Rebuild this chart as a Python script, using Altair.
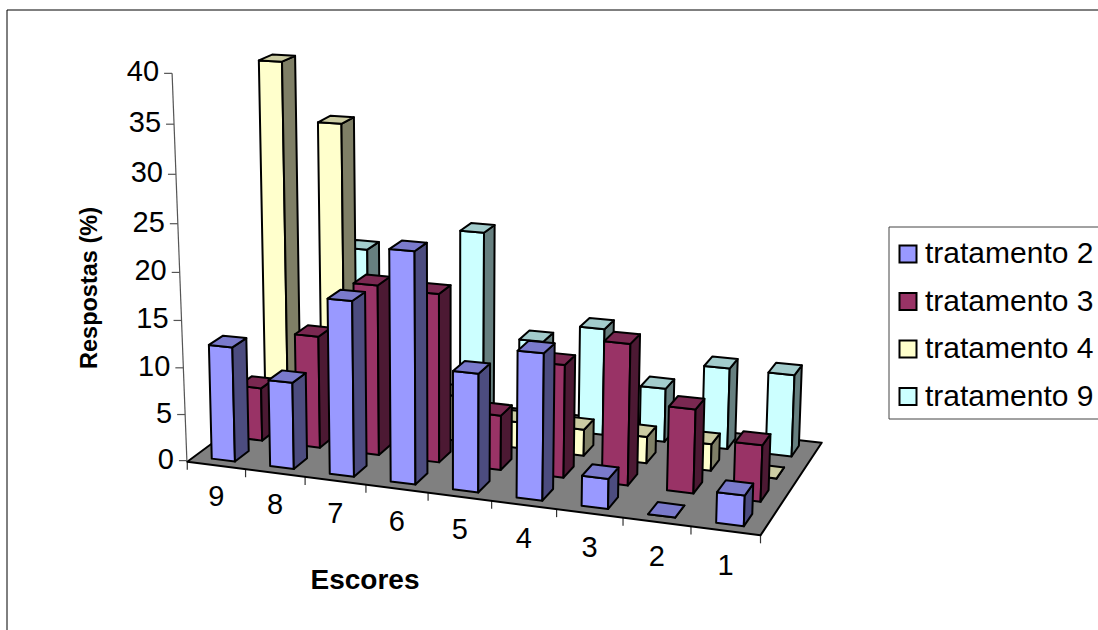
import altair as alt
import numpy as np
import pandas as pd

# Response percentages per score, listed from score 9 down to score 1
scores = ["9", "8", "7", "6", "5", "4", "3", "2", "1"]
tratamento_2 = [12.5, 9.38, 18.75, 24.5, 12.5, 15.3, 3.13, 0.0, 3.13]
tratamento_3 = [5.88, 12.3, 18.5, 18.2, 5.88, 12.0, 14.9, 8.82, 5.88]
tratamento_4 = [40.0, 33.7, 8.57, 5.0, 2.86, 2.86, 2.86, 2.86, 0.0]
tratamento_9 = [5.88, 18.2, 11.76, 21.2, 9.7, 11.76, 5.88, 8.82, 8.82]

series_names = ["tratamento 2", "tratamento 3", "tratamento 4", "tratamento 9"]
series_values = [tratamento_2, tratamento_3, tratamento_4, tratamento_9]
base_colors = ["#9999FF", "#993366", "#FFFFCC", "#CCFFFF"]
y_ticks = [0, 5, 10, 15, 20, 25, 30, 35, 40]

W, H = 1098, 630
BAR_W, BAR_D = 0.40, 0.50

# Perspective camera solved from where known model points land on the page:
# (category position, series depth, value) -> (px, py)
camera_points = [
    # floor corners
    ((9, 4, 0), (820, 444)),
    ((0, 4, 0), (292, 388)),
    # front edge of the floor at each category boundary
    ((0, 0, 0), (187, 461)), ((1, 0, 0), (244, 469)), ((2, 0, 0), (304, 478)),
    ((3, 0, 0), (366, 487)), ((4, 0, 0), (428, 495)), ((5, 0, 0), (492, 503)),
    ((6, 0, 0), (556, 512)), ((7, 0, 0), (623, 520)), ((8, 0, 0), (689, 527)),
    ((9, 0, 0), (760, 536)),
    # front row bars, feet and heads
    ((0.3, 0.25, 0), (212, 456)), ((1.3, 0.25, 0), (272, 463)),
    ((2.3, 0.25, 0), (331, 472)), ((3.3, 0.25, 0), (391, 479)),
    ((4.3, 0.25, 0), (453, 487)), ((5.3, 0.25, 0), (517, 495)),
    ((6.3, 0.25, 0), (582, 504)), ((8.3, 0.25, 0), (717, 522)),
    ((0.3, 0.25, 12.5), (207, 344)), ((1.3, 0.25, 9.38), (270, 380)),
    ((2.3, 0.25, 18.75), (327, 299)), ((3.3, 0.25, 25), (388, 247)),
    ((4.3, 0.25, 12.5), (453, 372)), ((5.3, 0.25, 15.63), (517, 350)),
    ((6.3, 0.25, 3.13), (582, 477)), ((8.3, 0.25, 3.13), (717, 493)),
    # rows further back
    ((8.3, 1.25, 5.88), (735, 442)), ((8.7, 1.25, 0), (762, 501)),
    ((6.3, 1.25, 14.71), (604, 338)), ((6.7, 1.25, 0), (630, 485)),
    ((0.3, 2.25, 40), (258, 58)), ((0.7, 2.25, 40), (283, 60)),
    ((1.3, 2.25, 34.29), (317, 120)), ((1.7, 2.25, 34.29), (343, 122)),
    ((3.3, 3.25, 20.59), (462, 232)), ((8.3, 3.25, 8.82), (767, 372)),
    ((8.7, 3.25, 8.82), (795, 373)), ((8.7, 3.25, 0), (792, 457)),
]

# The value axis has its own anchors along its slanted spine
axis_points = [
    ((0, 0, 0), (187, 461)), ((9, 0, 0), (760, 536)),
    ((9, 4, 0), (820, 444)), ((0, 4, 0), (292, 388)),
    ((0, 0, 10), (183, 367)), ((0, 0, 20), (180, 272.5)),
    ((0, 0, 30), (176, 175)), ((0, 0, 40), (172, 73)),
]


def solve_camera(points):
    rows = []
    for (a, b, c), (px, py) in points:
        rows.append([a, b, c, 1, 0, 0, 0, 0, -px * a, -px * b, -px * c, -px])
        rows.append([0, 0, 0, 0, a, b, c, 1, -py * a, -py * b, -py * c, -py])
    return np.linalg.svd(np.array(rows, dtype=float))[2][-1].reshape(3, 4)


CAM = solve_camera(camera_points)
AXIS_CAM = solve_camera(axis_points)


def project(u, v, h, cam=CAM):
    p = cam @ np.array([u, v, h, 1.0])
    return float(p[0] / p[2]), float(p[1] / p[2])


def shade(hex_color, k):
    r, g, b = (int(hex_color[i:i + 2], 16) for i in (1, 3, 5))
    return f"#{int(r * k):02x}{int(g * k):02x}{int(b * k):02x}"


faces = []


def add_face(corners, fill):
    face = faces[-1]["face"] + 1 if faces else 0
    for i, c in enumerate(corners):
        x, y = project(*c)
        faces.append({"face": face, "vertex": i, "x": x, "y": y, "fill": fill})


# The floor goes first, then bars from the back row forward and left to right
add_face([(0, 0, 0), (9, 0, 0), (9, 4, 0), (0, 4, 0)], "#808080")
for s in reversed(range(4)):
    for c, value in enumerate(series_values[s]):
        u0, u1 = c + 0.5 - BAR_W / 2, c + 0.5 + BAR_W / 2
        v0, v1 = s + 0.5 - BAR_D / 2, s + 0.5 + BAR_D / 2
        base = base_colors[s]
        add_face([(u0, v0, 0), (u1, v0, 0), (u1, v0, value), (u0, v0, value)], base)
        add_face([(u1, v0, 0), (u1, v1, 0), (u1, v1, value), (u1, v0, value)], shade(base, 0.5))
        add_face([(u0, v0, value), (u1, v0, value), (u1, v1, value), (u0, v1, value)], shade(base, 0.8))
faces_df = pd.DataFrame(faces)

x_px = alt.Scale(domain=[0, W], range=[0, W], nice=False, zero=False)
y_px = alt.Scale(domain=[0, H], range=[0, H], nice=False, zero=False)
X = alt.X("x:Q", scale=x_px, axis=None)
Y = alt.Y("y:Q", scale=y_px, axis=None)
X2 = alt.X2("x2:Q")

polygons = alt.Chart(faces_df).mark_line(
    interpolate="linear-closed", stroke="black", strokeWidth=2, strokeJoin="round"
).encode(
    x=X, y=Y,
    fill=alt.Fill("fill:N", scale=None),
    detail="face:N",
    order=alt.Order("vertex:Q"),
)

frame = alt.Chart(pd.DataFrame({"a": [0]})).mark_rect(
    fill="white", stroke="black", strokeWidth=1
).encode(x=alt.value(7), x2=alt.value(1200), y=alt.value(10), y2=alt.value(700))

# The legend's box runs off the right side of the page, so it is drawn apart
legend_box = alt.Chart(pd.DataFrame({"a": [0]})).mark_rect(
    fill="white", stroke="#444444", strokeWidth=1
).encode(x=alt.value(889), x2=alt.value(1200), y=alt.value(227), y2=alt.value(419))

# Value axis: a slanted spine with outward ticks
top_x, top_y = project(0, 0, 40, AXIS_CAM)
bot_x, bot_y = project(0, 0, 0, AXIS_CAM)
spine = alt.Chart(pd.DataFrame({"x": [bot_x, top_x], "y": [bot_y, top_y]})).mark_line(
    color="#555555", strokeWidth=1.2
).encode(x=X, y=Y)

y_tick_pos = [project(0, 0, t, AXIS_CAM) for t in y_ticks]
y_tick_df = pd.DataFrame({
    "x": [p[0] for p in y_tick_pos],
    "x2": [p[0] - 8 for p in y_tick_pos],
    "y": [p[1] for p in y_tick_pos],
    "ly": [p[1] - 1 for p in y_tick_pos],
    "lx": [p[0] - 13 for p in y_tick_pos],
    "label": [str(t) for t in y_ticks],
})
y_tick_rules = alt.Chart(y_tick_df).mark_rule(color="#555555", strokeWidth=1.2).encode(
    x=X, x2=X2, y=Y
)
y_labels = alt.Chart(y_tick_df).mark_text(
    align="right", baseline="middle", font="Liberation Sans", fontSize=29, color="black"
).encode(
    x=alt.X("lx:Q", scale=x_px, axis=None),
    y=alt.Y("ly:Q", scale=y_px, axis=None),
    text="label:N",
)

# Score axis: ticks under the front edge of the floor and a label per category
x_tick_rows = []
for k in range(10):
    px, py = project(k, 0, 0)
    x_tick_rows.append({"x": px, "y": py, "y2": py + 8})
x_tick_rules = alt.Chart(pd.DataFrame(x_tick_rows)).mark_rule(
    color="#333333", strokeWidth=1.2
).encode(x=X, y=Y, y2=alt.Y2("y2:Q"))

x_label_rows = []
for k, name in enumerate(scores):
    px, py = project(k + 0.5, 0, 0)
    x_label_rows.append({"x": px, "y": py + 32 + 0.4 * k, "label": name})
x_labels = alt.Chart(pd.DataFrame(x_label_rows)).mark_text(
    align="center", baseline="middle", font="Liberation Sans", fontSize=29, color="black"
).encode(x=X, y=Y, text="label:N")

x_title = alt.Chart(pd.DataFrame({"x": [365], "y": [581], "label": ["Escores"]})).mark_text(
    align="center", baseline="middle", font="Liberation Sans", fontSize=28,
    fontWeight="bold", color="black"
).encode(x=X, y=Y, text="label:N")

y_title = alt.Chart(pd.DataFrame({"x": [90], "y": [288], "label": ["Respostas (%)"]})).mark_text(
    align="center", baseline="middle", font="Liberation Sans", fontSize=23.5,
    fontWeight="bold", color="black", angle=270
).encode(x=X, y=Y, text="label:N")

# Legend carried by an invisible layer so that it keeps plain square swatches
legend_layer = alt.Chart(pd.DataFrame({
    "series": series_names, "x": [W / 2] * 4, "y": [H / 2] * 4
})).mark_square(size=0).encode(
    x=X, y=Y,
    fill=alt.Fill(
        "series:N",
        scale=alt.Scale(domain=series_names, range=base_colors),
        legend=alt.Legend(
            title=None, orient="none", legendX=889, legendY=235, padding=4,
            symbolType="square", symbolSize=289, symbolStrokeColor="black",
            symbolStrokeWidth=2, symbolOpacity=1,
            labelFont="Liberation Sans", labelFontSize=30, labelColor="black",
            labelLimit=300, rowPadding=17.5, labelOffset=2, offset=0,
        ),
    ),
)

chart = alt.layer(
    frame, legend_box, spine, y_tick_rules, y_labels, x_tick_rules, x_labels,
    polygons, x_title, y_title, legend_layer,
).resolve_scale(fill="independent").properties(
    width=W, height=H, padding=0, autosize=alt.AutoSizeParams(type="none"),
    background="white",
).configure_view(stroke=None)

chart.save("out.html", embed_options={"renderer": "svg", "actions": False})
